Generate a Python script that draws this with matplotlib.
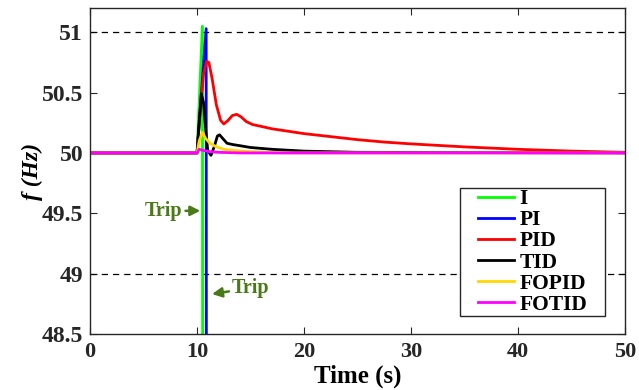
import matplotlib
matplotlib.use("Agg")
import matplotlib.pyplot as plt
from matplotlib.patches import Rectangle

plt.rcParams['font.family'] = ['Liberation Serif', 'DejaVu Serif']
plt.rcParams['font.weight'] = 'bold'

# frequency responses (Hz) vs time (s)
t_i = [0, 10, 10.5, 10.52]
f_i = [50, 50, 51.05, 48.3]

t_pi = [0, 10, 10.85, 10.87]
f_pi = [50, 50, 51.03, 48.3]

t_pid = [0, 10, 10.3, 10.6, 10.9, 11.1, 11.4, 11.8, 12.2, 12.5, 12.9, 13.3, 13.7, 14.1,
         14.6, 15.2, 16, 17, 18.5, 20, 22.5, 25, 27.5, 30, 35, 40, 45, 50]
f_pid = [50, 50, 50.35, 50.65, 50.76, 50.75, 50.62, 50.4, 50.27, 50.24, 50.27, 50.31, 50.32, 50.3,
         50.26, 50.235, 50.22, 50.2, 50.18, 50.16, 50.135, 50.11, 50.09, 50.075, 50.05, 50.03, 50.015, 50.005]

t_tid = [0, 10, 10.15, 10.4, 10.6, 10.8, 11.0, 11.3, 11.6, 11.9, 12.1, 12.4, 12.8, 13.3,
         14, 15, 17, 20, 25, 50]
f_tid = [50, 50, 50.2, 50.49, 50.42, 50.2, 50.02, 49.98, 50.05, 50.14, 50.15, 50.12, 50.08, 50.07,
         50.06, 50.045, 50.03, 50.015, 50.005, 50.0]

t_fopid = [0, 10, 10.2, 10.5, 10.8, 11.2, 11.8, 12.5, 13.5, 15, 18, 50]
f_fopid = [50, 50, 50.1, 50.17, 50.12, 50.08, 50.05, 50.03, 50.02, 50.01, 50.0, 50.0]

t_fotid = [0, 10, 10.2, 10.6, 11.2, 12, 14, 50]
f_fotid = [50, 50, 50.03, 50.02, 50.01, 50.005, 50, 50]

limits = [51, 49]

fig = plt.figure(figsize=(6.39, 3.9), dpi=100)
ax = fig.add_axes([0.141, 0.144, 0.837, 0.835])

for y in limits:
    ax.axhline(y, color='black', ls='--', lw=0.9, dashes=(5, 4))

ax.plot(t_i, f_i, color='#00ff00', lw=2, label='I')
ax.plot(t_pi, f_pi, color='#0000ff', lw=2, label='PI')
ax.plot(t_pid, f_pid, color='#ff0000', lw=2, label='PID')
ax.plot(t_tid, f_tid, color='black', lw=2, label='TID')
ax.plot(t_fopid, f_fopid, color='#ffd700', lw=2, label='FOPID')
ax.plot(t_fotid, f_fotid, color='#ff00ff', lw=2, label='FOTID')

trip_col = '#4a7a17'
ax.annotate('Trip', xy=(10.3, 49.52), xytext=(6.9, 49.52), color=trip_col,
            fontsize=14.5, fontweight='bold', ha='center', va='center',
            arrowprops=dict(arrowstyle='-|>', color=trip_col, lw=1.8, shrinkA=0, shrinkB=0))
ax.annotate('Trip', xy=(11.4, 48.83), xytext=(15.0, 48.88), color=trip_col,
            fontsize=14.5, fontweight='bold', ha='center', va='center',
            arrowprops=dict(arrowstyle='-|>', color=trip_col, lw=1.8, shrinkA=0, shrinkB=0))

ax.set_xlim(0, 50)
ax.set_ylim(48.5, 51.2)
ax.set_xticks([0, 10, 20, 30, 40, 50])
ax.set_yticks([48.5, 49, 49.5, 50, 50.5, 51])
ax.set_yticklabels(['48.5', '49', '49.5', '50', '50.5', '51'])
ax.tick_params(direction='in', top=True, right=True, colors='#262626', length=5)
ax.tick_params(axis='x', labelsize=16, pad=6)
ax.tick_params(axis='y', labelsize=17, pad=5)
for s in ax.spines.values():
    s.set_color('#262626')
    s.set_linewidth(1.0)
ax.set_xlabel('Time (s)', fontsize=18, fontweight='bold', labelpad=2)
ax.set_ylabel('f (Hz)', fontsize=17, fontweight='bold', fontstyle='italic', labelpad=-1)

# legend box: wide side padding like the original
box = Rectangle((0.692, 0.055), 0.271, 0.393, transform=ax.transAxes, facecolor='white',
                edgecolor='#262626', lw=1.0, zorder=4)
ax.add_patch(box)
leg = ax.legend(loc='center', bbox_to_anchor=(0.8275, 0.2515), fontsize=15.5, frameon=False,
                handlelength=1.7, labelspacing=0.05, borderpad=0.0, handletextpad=0.25)
leg.set_zorder(5)

fig.savefig('out.png', dpi=100)
